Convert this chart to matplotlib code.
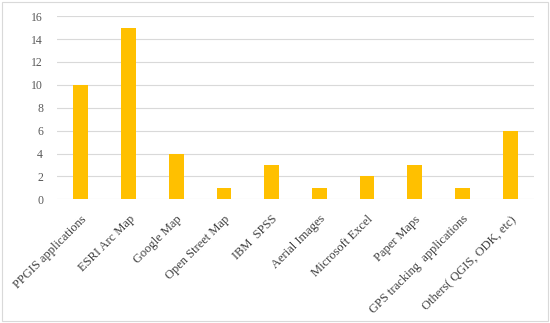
import matplotlib
matplotlib.use('Agg')
import matplotlib.pyplot as plt
from matplotlib.patches import Rectangle

categories = [
    'PPGIS applications', 'ESRI Arc Map', 'Google Map', 'Open Street Map',
    'IBM  SPSS', 'Aerial Images', 'Microsoft Excel', 'Paper Maps',
    'GPS tracking  applications', 'Others( QGIS, ODK, etc)',
]
counts = [10, 15, 4, 1, 3, 1, 2, 3, 1, 6]
yticks = [0, 2, 4, 6, 8, 10, 12, 14, 16]

plt.rcParams['font.family'] = ['Liberation Serif', 'DejaVu Serif']

fig = plt.figure(figsize=(5.5, 3.23), dpi=100)
ax = fig.add_axes([0.1036, 0.383, 0.8673, 0.567])

x = list(range(len(categories)))
ax.bar(x, counts, width=0.31, color='#FFC000', zorder=3)

ax.set_xlim(-0.5, len(categories) - 0.5)
ax.set_ylim(0, 16)
ax.set_yticks(yticks)
ax.set_yticklabels([str(t) for t in yticks], fontsize=8.5, color='#595959')
ax.set_xticks(x)
ax.set_xticklabels(categories, rotation=45, ha='right', rotation_mode='anchor',
                   fontsize=9, color='#404040')
ax.tick_params(axis='both', length=0)
ax.tick_params(axis='y', pad=10)
ax.tick_params(axis='x', pad=10)
ax.grid(axis='y', color='#D9D9D9', linewidth=0.8, zorder=0)
for s in ax.spines.values():
    s.set_visible(False)

fig.patches.append(Rectangle((0.004, 0.006), 0.992, 0.988, transform=fig.transFigure,
                             fill=False, edgecolor='#D9D9D9', linewidth=0.8))

fig.savefig('out.png', dpi=100)
